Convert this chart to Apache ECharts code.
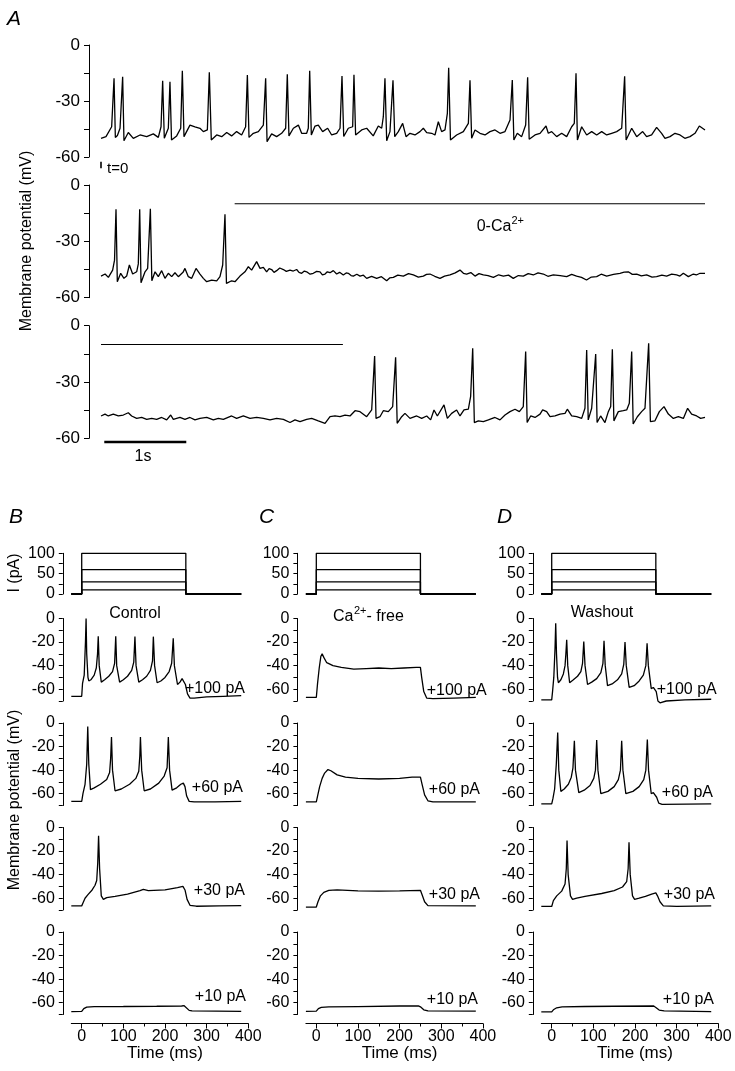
<!DOCTYPE html>
<html><head><meta charset="utf-8">
<script src="https://cdn.jsdelivr.net/npm/echarts@6/dist/echarts.min.js"></script>
<style>html,body{margin:0;padding:0;background:#fff}#c{width:735px;height:1071px}</style>
</head><body><div id="c"></div>
<script>
// ---------------- DATA ----------------
// Panel A: time in s, membrane potential in mV
const traceA1 = [[0,-50],[0.061,-49.1],[0.13,-43.8],[0.159,-17.8],[0.175,-49.5],[0.2,-48.5],[0.232,-44.6],[0.264,-17],[0.28,-51.3],[0.333,-46.9],[0.394,-50],[0.476,-48.2],[0.557,-49.1],[0.638,-47.6],[0.699,-49.5],[0.732,-43.8],[0.752,-19.1],[0.772,-50],[0.821,-44.6],[0.841,-19.7],[0.86,-50.9],[0.923,-48.7],[0.972,-44.6],[0.992,-13.8],[1.012,-49.1],[1.085,-42.9],[1.146,-43.8],[1.207,-44.6],[1.248,-46.4],[1.297,-45.5],[1.321,-14.6],[1.345,-50.9],[1.411,-48.2],[1.472,-49.1],[1.533,-46.9],[1.593,-48.7],[1.654,-46.4],[1.715,-48.2],[1.764,-43.8],[1.785,-16.1],[1.805,-49.5],[1.858,-47.3],[1.919,-46.4],[1.98,-42.9],[2.008,-17.8],[2.025,-51.8],[2.081,-47.6],[2.142,-49.1],[2.203,-47.3],[2.252,-44.6],[2.272,-15.7],[2.292,-48.7],[2.346,-44.6],[2.407,-42.9],[2.447,-47.3],[2.508,-47.3],[2.528,-44.6],[2.545,-13.8],[2.565,-48.2],[2.61,-43.4],[2.65,-42.9],[2.703,-46.4],[2.764,-44.6],[2.813,-48.2],[2.874,-47.3],[2.915,-44.6],[2.939,-16.6],[2.96,-49],[3.016,-44.6],[3.069,-43.8],[3.085,-15.9],[3.105,-48.2],[3.179,-45.5],[3.24,-44.6],[3.32,-48.7],[3.382,-43.4],[3.423,-44.6],[3.443,-38.4],[3.463,-17.8],[3.484,-51.3],[3.524,-46.4],[3.561,-18.9],[3.582,-49.1],[3.626,-46.4],[3.679,-42],[3.72,-49.1],[3.768,-47.3],[3.829,-48.2],[3.89,-46.4],[3.931,-44.6],[3.972,-46.9],[4.033,-47.3],[4.073,-48.2],[4.114,-41.1],[4.154,-46.4],[4.195,-45.5],[4.224,-36.6],[4.24,-12.2],[4.262,-50.9],[4.337,-48.2],[4.419,-46.4],[4.48,-42],[4.5,-18.9],[4.52,-50],[4.561,-45.5],[4.622,-47.3],[4.683,-48.2],[4.744,-46.4],[4.805,-45.5],[4.866,-47.3],[4.927,-46.4],[4.988,-40.2],[5.016,-18.8],[5.035,-50.9],[5.077,-47.3],[5.13,-49.1],[5.179,-42.9],[5.203,-17.3],[5.222,-50.5],[5.293,-48.2],[5.354,-47.3],[5.427,-43.4],[5.455,-47.3],[5.496,-46.4],[5.557,-49.1],[5.618,-47.3],[5.679,-49.1],[5.74,-43.8],[5.772,-42],[5.793,-15.2],[5.81,-50.9],[5.862,-43.8],[5.923,-48.2],[5.984,-46.4],[6.045,-48.2],[6.106,-46.4],[6.167,-48.2],[6.228,-47.3],[6.289,-46.4],[6.35,-44.6],[6.386,-16.8],[6.404,-50.9],[6.472,-44.6],[6.533,-49.1],[6.606,-46.4],[6.654,-49.1],[6.715,-48.2],[6.776,-44.1],[6.837,-47.3],[6.878,-50],[6.939,-49.1],[7.0,-47.3],[7.061,-48.2],[7.12,-50],[7.183,-49.1],[7.244,-47.3],[7.297,-43.4],[7.366,-45.5]];
const traceA2 = [[0,-48.5],[0.05,-47.4],[0.09,-49.2],[0.142,-45.3],[0.165,-40],[0.183,-12.9],[0.199,-51.5],[0.24,-47],[0.28,-49.7],[0.313,-48.5],[0.346,-42.6],[0.386,-47.4],[0.435,-46.2],[0.455,-42],[0.472,-12.9],[0.488,-52],[0.537,-46.2],[0.569,-44.4],[0.602,-12.6],[0.62,-51],[0.659,-46.2],[0.699,-48.8],[0.74,-45.6],[0.78,-49.7],[0.821,-47],[0.862,-48.8],[0.902,-46.7],[0.943,-48.8],[1.0,-46.5],[1.024,-44.4],[1.065,-48.8],[1.106,-49.7],[1.159,-44.4],[1.207,-47.4],[1.248,-49.7],[1.289,-51.5],[1.35,-50.6],[1.411,-51],[1.451,-48.8],[1.484,-42.6],[1.512,-15.6],[1.53,-52.4],[1.593,-51],[1.634,-51.5],[1.695,-48.5],[1.756,-46.2],[1.797,-43.5],[1.837,-45.3],[1.898,-40.8],[1.939,-44.4],[1.98,-43.9],[2.02,-46.2],[2.05,-44.5],[2.081,-45],[2.11,-46.5],[2.142,-45.6],[2.18,-44.2],[2.224,-45],[2.26,-46],[2.305,-45.3],[2.345,-45.8],[2.386,-45],[2.415,-46.5],[2.447,-47],[2.48,-45.8],[2.508,-46.2],[2.55,-47.5],[2.589,-47],[2.63,-46],[2.671,-46.2],[2.7,-47.8],[2.732,-47.4],[2.76,-46.2],[2.793,-46.7],[2.833,-45.6],[2.874,-47.4],[2.91,-46.5],[2.955,-47.9],[2.99,-46.8],[3.016,-47],[3.05,-48.2],[3.077,-48.5],[3.12,-47.5],[3.159,-48.5],[3.2,-48],[3.24,-49.7],[3.3,-48.6],[3.362,-49.7],[3.42,-48.8],[3.484,-51],[3.52,-49.5],[3.565,-49.2],[3.62,-48],[3.687,-48.5],[3.75,-47.2],[3.809,-47.9],[3.87,-49],[3.931,-48.5],[3.97,-47.6],[4.012,-47.4],[4.07,-48.6],[4.134,-49.7],[4.19,-48.5],[4.256,-47.9],[4.32,-46.8],[4.378,-45.3],[4.42,-47],[4.459,-47.4],[4.51,-46.6],[4.561,-48.5],[4.61,-47.2],[4.663,-47.9],[4.72,-48.2],[4.785,-49.2],[4.85,-47.8],[4.907,-48.5],[4.97,-48],[5.028,-49.7],[5.09,-48.2],[5.15,-48.5],[5.21,-47.2],[5.272,-47.9],[5.33,-46.8],[5.394,-47.4],[5.45,-48.6],[5.516,-47.9],[5.6,-48.2],[5.679,-48.8],[5.74,-47.6],[5.8,-48.5],[5.86,-49.2],[5.921,-50.6],[5.98,-49],[6.045,-48.8],[6.1,-47.5],[6.167,-48.5],[6.25,-47.6],[6.329,-47],[6.38,-46.4],[6.43,-46.2],[6.48,-47.6],[6.533,-47.4],[6.59,-48.4],[6.654,-47.9],[6.72,-49],[6.776,-48.8],[6.84,-48],[6.898,-48.5],[6.96,-47.4],[7.02,-47.9],[7.06,-48.5],[7.102,-47],[7.163,-48.8],[7.224,-47.4],[7.26,-47.9],[7.305,-47],[7.366,-47]];
const traceA3 = [[0,-48.1],[0.049,-47.1],[0.089,-48.1],[0.15,-47.1],[0.211,-48.1],[0.272,-47.6],[0.333,-46.4],[0.374,-48.1],[0.435,-49.4],[0.496,-48.9],[0.557,-49.9],[0.618,-49.4],[0.679,-49.9],[0.74,-48.9],[0.801,-50.2],[0.85,-47.6],[0.882,-49.9],[0.963,-48.9],[1.024,-49.9],[1.085,-48.9],[1.146,-50.2],[1.207,-49.4],[1.289,-48.9],[1.37,-50.2],[1.431,-49.4],[1.492,-49.9],[1.593,-48.1],[1.654,-49.4],[1.736,-48.1],[1.817,-49.4],[1.898,-48.9],[1.98,-49.4],[2.061,-50.2],[2.142,-49.4],[2.224,-49.9],[2.305,-51.6],[2.366,-50.2],[2.427,-51.1],[2.508,-49.9],[2.569,-49.4],[2.65,-50.7],[2.732,-52],[2.793,-48.5],[2.854,-48.1],[2.915,-48.5],[2.976,-47.6],[3.037,-48.1],[3.098,-45.3],[3.159,-45.8],[3.24,-48.5],[3.301,-44.9],[3.337,-16.1],[3.354,-49.4],[3.402,-48.5],[3.443,-45.3],[3.504,-45.8],[3.557,-43.1],[3.593,-16.8],[3.612,-52],[3.667,-48.5],[3.707,-46.7],[3.768,-49.4],[3.85,-48.1],[3.911,-49.4],[3.972,-48.1],[4.02,-50.2],[4.061,-44.9],[4.102,-48.1],[4.183,-42.2],[4.224,-49.4],[4.276,-46.7],[4.337,-44.9],[4.378,-48.1],[4.427,-44.9],[4.48,-44.5],[4.508,-37.7],[4.533,-12],[4.553,-51.6],[4.602,-50.7],[4.663,-51.1],[4.724,-50.2],[4.805,-48.9],[4.866,-50.2],[4.927,-47.6],[4.988,-45.8],[5.049,-44.5],[5.102,-45.8],[5.15,-43.1],[5.179,-13.8],[5.197,-51.6],[5.24,-48.1],[5.293,-48.9],[5.354,-47.1],[5.386,-44.9],[5.435,-45.8],[5.476,-48.5],[5.537,-48.1],[5.598,-47.1],[5.659,-46.7],[5.687,-44.5],[5.74,-48.1],[5.801,-48.5],[5.862,-49.4],[5.902,-44],[5.923,-12.9],[5.942,-50.2],[5.984,-44],[6.033,-15.1],[6.05,-51.6],[6.093,-48.1],[6.146,-51.6],[6.187,-45.8],[6.216,-43],[6.236,-12.6],[6.255,-50.7],[6.309,-45.8],[6.37,-45.3],[6.411,-44.9],[6.443,-41.3],[6.472,-13.8],[6.49,-52.4],[6.541,-48.5],[6.593,-45.8],[6.634,-44],[6.679,-9.4],[6.7,-51.1],[6.756,-50.7],[6.809,-45.8],[6.866,-43.1],[6.919,-47.1],[6.98,-49.4],[7.041,-48.5],[7.102,-49.4],[7.154,-44],[7.203,-47.1],[7.264,-48.1],[7.313,-49.4],[7.366,-48.9]];
const caFreeA2 = [1.63, 7.366];   // 0-Ca2+ application (s)
const caFreeA3 = [0, 2.95];
const caBarLevel = -10;            // mV level of the bar
const scaleBar = [0.04, 1.04];     // 1 s
const scaleBarLevel = -62;
const tZero = 0;

// Panels B-D: time in ms, membrane potential in mV
const stimLevels = [10, 30, 60, 100];   // pA
const stimOn = 0, stimOff = 250, sweepStart = -25, sweepEnd = 383;
const sweepLabels = ['+100 pA', '+60 pA', '+30 pA', '+10 pA'];
const conditionNames = ['Control', 'Ca2+- free', 'Washout'];

const control100 = [[-25,-66],[0,-66],[2,-55],[6,-48],[9,-20],[10.5,0],[12,-30],[15,-50],[17,-53],[22,-52],[30,-48],[35,-42],[38,-30],[39.7,-15],[42,-40],[47,-54],[55,-52],[65,-49],[74,-45],[79,-38],[81.7,-15],[84,-40],[91,-54],[100,-52],[110,-49],[120,-44],[125,-37],[127.8,-15.4],[130.5,-40],[137,-54],[146,-52],[156,-49],[165,-44],[170,-36],[172,-15.4],[175,-40],[181,-54.5],[190,-53],[200,-50],[210,-45],[216,-38],[219.8,-16.7],[222.5,-40],[230,-56],[236,-54],[241,-51],[245,-52],[249,-56],[254,-64],[260,-67.5],[270,-67.5],[300,-66.5],[340,-66],[383,-65.5]];
const control60 = [[-25,-66.5],[0,-66.5],[3,-60],[8,-52],[12,-35],[14.5,-3],[17,-35],[21,-56.5],[30,-55],[45,-52],[60,-48],[67,-42],[69.5,-30],[71.5,-12],[74,-40],[80,-57.5],[95,-56],[115,-52],[130,-47],[137,-41],[139.5,-28],[141,-12],[144,-40],[150,-57.5],[165,-56],[185,-51],[198,-45],[205,-38],[208,-12],[211,-40],[217,-57],[228,-55],[238,-52],[244,-51],[248,-54],[252,-62],[258,-66.5],[270,-67],[320,-67],[383,-66.5]];
const control30 = [[-25,-66.5],[0,-66.5],[3,-64],[8,-60],[15,-57],[25,-53],[32,-49],[36,-45],[38.5,-30],[40.5,-7],[43,-35],[47,-58],[52,-61],[60,-59.5],[80,-58.5],[110,-56.5],[140,-53.5],[148,-52.5],[160,-53.5],[200,-53],[230,-51],[243,-50],[248,-53],[253,-61],[260,-66],[275,-66.8],[330,-66.5],[383,-66.3]];
const control10 = [[-25,-67.5],[0,-67.3],[5,-65],[12,-63.7],[30,-63.3],[100,-63.2],[180,-63],[240,-62.8],[246,-62.5],[250,-64],[258,-66.5],[265,-67],[383,-67.3]];

const caFree100 = [[-25,-67],[0,-67],[3,-55],[7,-42],[11,-32],[14,-30],[18,-33],[25,-37.5],[40,-40],[60,-41.5],[90,-43],[120,-42.5],[150,-42],[180,-42.5],[210,-42],[240,-41.5],[250,-41.5],[253,-50],[258,-62],[265,-67.5],[280,-68],[330,-67.5],[383,-67]];
const caFree60 = [[-25,-67],[0,-67],[3,-62],[8,-54],[14,-47],[20,-42.5],[28,-39.5],[35,-40.5],[50,-44],[70,-46],[100,-47],[150,-47.5],[200,-47],[230,-46],[250,-46],[254,-52],[260,-61],[268,-66],[280,-67],[383,-67]];
const caFree30 = [[-25,-67.5],[0,-67.5],[4,-63],[10,-58],[18,-55],[30,-53.3],[50,-53],[100,-53.7],[150,-54],[200,-53.7],[250,-53.3],[254,-57],[260,-63],[268,-66.3],[383,-66.5]];
const caFree10 = [[-25,-67.3],[0,-67.2],[5,-65],[12,-64],[30,-63.6],[100,-63.3],[200,-62.8],[245,-62.7],[250,-63.5],[258,-66],[268,-67],[383,-67.2]];

const wash100 = [[-25,-69],[0,-69],[2,-62],[5,-50],[8,-25],[9.6,-4],[11.5,-30],[14,-50],[16,-54.5],[22,-52],[28,-47],[32,-40],[34,-30],[36,-18],[38.5,-40],[43,-54.5],[52,-52],[62,-49],[70,-45],[74,-38],[77,-19.5],[80,-40],[86,-56],[96,-54],[108,-51],[118,-46],[123,-38],[125.6,-19],[128.5,-40],[134,-57],[145,-55.5],[158,-52],[168,-47],[173,-39],[176,-20],[179,-40],[186,-58.5],[198,-57],[210,-53],[220,-48],[226,-40],[229,-21],[232,-40],[239,-59.5],[244,-58.5],[248,-57.5],[251,-62],[255,-70],[260,-71.5],[275,-70],[320,-69],[383,-68.5]];
const wash60 = [[-25,-68.7],[0,-68.7],[3,-64],[7,-56],[11,-35],[14.4,-8],[17,-40],[22,-58],[30,-56],[40,-52],[47,-46],[51,-38],[54.4,-15],[57,-40],[65,-59],[78,-57],[92,-53],[101,-47],[105,-40],[108,-14.5],[111,-40],[118,-60],[135,-58],[150,-54],[160,-48],[165,-40],[168,-15],[171,-40],[178,-60],[195,-58],[210,-54],[221,-48],[226,-40],[229.6,-14],[232.5,-40],[239,-60],[244,-59],[248,-58.5],[252,-63],[257,-68],[265,-69],[383,-68.7]];
const wash30 = [[-25,-67],[0,-67],[4,-62],[12,-58],[24,-54],[32,-48],[35,-35],[36.8,-11],[39.5,-40],[45,-58],[50,-61],[60,-60],[80,-58.5],[120,-56],[150,-53.5],[170,-50.5],[180,-46],[183.5,-35],[185.6,-12.5],[188.5,-40],[194,-58],[199,-61],[210,-60],[225,-58.5],[240,-56.5],[250,-55.5],[254,-58],[260,-63],[268,-66.5],[300,-67],[383,-66.5]];
const wash10 = [[-25,-67.8],[0,-67.8],[4,-66],[12,-64.3],[25,-63.5],[80,-63.2],[150,-63],[245,-62.8],[250,-64],[258,-66.2],[270,-67],[383,-67.5]];

const sweeps = [
  [control100, control60, control30, control10],
  [caFree100, caFree60, caFree30, caFree10],
  [wash100, wash60, wash30, wash10]
];
const timeTicks = [0, 100, 200, 300, 400];
const timeMinorTicks = [50, 150, 250, 350];

// ---------------- LAYOUT ----------------
const FONT = "'Liberation Sans', Arial, Helvetica, sans-serif";
const aLeft = 101, aWidth = 604, aTops = [45, 185, 325.7], aH = [112, 112.7, 112.6];
const colLeft = [71.3, 305.9, 541.3], colW = 177;
const stimTop = 553.3, stimH = 40.7;
const rowTop = [618.5, 723, 827.5, 932], rowH = 82.5;
const LW = 1.3;

const grid = [], xAxis = [], yAxis = [], series = [];
function yAx(gi, min, max, interval, every, offset, fs) {
  return {type:'value', gridIndex:gi, min, max, interval, offset, position:'left',
    axisLine:{show:true, onZero:false, lineStyle:{color:'#000', width:1}},
    axisTick:{show:true, length:4, lineStyle:{color:'#000', width:1}},
    axisLabel:{show:true, color:'#000', fontSize:fs || 16, fontFamily:FONT, margin:8,
      formatter: v => (Math.round(v) % every === 0) ? String(Math.round(v)) : ''},
    splitLine:{show:false}};
}
function hiddenX(gi, min, max) {
  return {type:'value', gridIndex:gi, min, max, show:false, axisLine:{onZero:false}, splitLine:{show:false}};
}
function line(xi, yi, data, w) {
  series.push({type:'line', xAxisIndex:xi, yAxisIndex:yi, data, symbol:'none', clip:false,
    silent:true, animation:false, lineStyle:{color:'#000', width:w || LW}});
}

// Panel A
const traceA = [traceA1, traceA2, traceA3];
for (let i = 0; i < 3; i++) {
  const gi = grid.length;
  grid.push({left:aLeft, top:aTops[i], width:aWidth, height:aH[i]});
  xAxis.push(hiddenX(gi, 0, 7.366));
  const y = yAx(gi, -60, 0, 15, 30, 12, 17);
  y.axisTick.length = 5; y.axisLabel.margin = 9;
  yAxis.push(y);
  line(xAxis.length - 1, yAxis.length - 1, traceA[i], LW);
  if (i === 0) line(xAxis.length - 1, yAxis.length - 1, [[tZero,-62.5],[tZero,-66]], 1.6);
  if (i === 1) line(xAxis.length - 1, yAxis.length - 1, [[caFreeA2[0],caBarLevel],[caFreeA2[1],caBarLevel]], 1.1);
  if (i === 2) {
    line(xAxis.length - 1, yAxis.length - 1, [[caFreeA3[0],caBarLevel],[caFreeA3[1],caBarLevel]], 1.1);
    line(xAxis.length - 1, yAxis.length - 1, [[scaleBar[0],scaleBarLevel],[scaleBar[1],scaleBarLevel]], 2.5);
  }
}

// Panels B-D
for (let c = 0; c < 3; c++) {
  let gi = grid.length;
  grid.push({left:colLeft[c], top:stimTop, width:colW, height:stimH});
  xAxis.push(hiddenX(gi, -25, 400));
  yAxis.push(yAx(gi, 0, 100, 25, 50, 8.5));
  for (const L of stimLevels) {
    line(xAxis.length - 1, yAxis.length - 1,
      [[sweepStart,0],[stimOn,0],[stimOn,L],[stimOff,L],[stimOff,0],[sweepEnd,0]], LW);
  }
  for (let r = 0; r < 4; r++) {
    gi = grid.length;
    grid.push({left:colLeft[c], top:rowTop[r], width:colW, height:rowH});
    if (r < 3) {
      xAxis.push(hiddenX(gi, -25, 400));
    } else {
      xAxis.push({type:'value', gridIndex:gi, min:-25, max:400, position:'bottom', offset:9,
        axisLine:{show:true, onZero:false, lineStyle:{color:'#000', width:1}},
        axisTick:{show:true, length:5, customValues:timeTicks, lineStyle:{color:'#000', width:1}},
        axisLabel:{show:true, customValues:timeTicks, color:'#000', fontSize:16, fontFamily:FONT, margin:5},
        splitLine:{show:false}});
    }
    const xi = xAxis.length - 1;
    if (r === 3) {
      xAxis.push({type:'value', gridIndex:gi, min:-25, max:400, position:'bottom', offset:9,
        axisLine:{show:false, onZero:false},
        axisTick:{show:true, length:3, customValues:timeMinorTicks, lineStyle:{color:'#000', width:1}},
        axisLabel:{show:false}, splitLine:{show:false}});
    }
    yAxis.push(yAx(gi, -70, 0, 10, 20, 8.5));
    line(xi, yAxis.length - 1, sweeps[c][r], LW);
  }
}

// ---------------- TEXT ----------------
const g = [];
function txt(x, y, text, o) {
  o = o || {};
  g.push({type:'text', x, y, rotation:o.rot || 0, silent:true,
    style:{text, fill:'#000', font:(o.italic ? 'italic ' : '') + (o.size || 16) + 'px ' + FONT,
      textAlign:o.align || 'left', textVerticalAlign:o.va || 'middle'}});
}
txt(7, 19, 'A', {italic:true, size:21});
txt(9, 517, 'B', {italic:true, size:21});
txt(259, 517, 'C', {italic:true, size:21});
txt(497, 517, 'D', {italic:true, size:21});
txt(107, 169, 't=0', {size:15});
txt(27, 241, 'Membrane potential (mV)', {rot:Math.PI/2, align:'center'});
txt(476.7, 227, '0-Ca', {});
txt(511.5, 221, '2+', {size:11});
txt(143, 457, '1s', {align:'center'});
txt(15, 573, 'I (pA)', {rot:Math.PI/2, align:'center'});
txt(15, 800, 'Membrane potential (mV)', {rot:Math.PI/2, align:'center'});
txt(135, 614, conditionNames[0], {align:'center'});
txt(333, 617, 'Ca', {});
txt(354, 611, '2+', {size:11});
txt(366.5, 617, '- free', {});
txt(602, 613, conditionNames[2], {align:'center'});
const labRight = [[245,243,245,246],[486.7,480,480,478],[716.7,713,715,714]];
const labY = [[689,788,891,997],[690.7,790,895,999.3],[689.3,792.3,895,999.3]];
for (let c = 0; c < 3; c++) for (let r = 0; r < 4; r++) txt(labRight[c][r], labY[c][r], sweepLabels[r], {align:'right', size:16});
for (let c = 0; c < 3; c++) txt(colLeft[c] + 10.4 + 200 * colW / 425, 1053, 'Time (ms)', {align:'center', size:17});

const chart = echarts.init(document.getElementById('c'), null, {renderer:'canvas'});
chart.setOption({backgroundColor:'#fff', animation:false, grid, xAxis, yAxis, series, graphic:{elements:g}});
</script></body></html>
